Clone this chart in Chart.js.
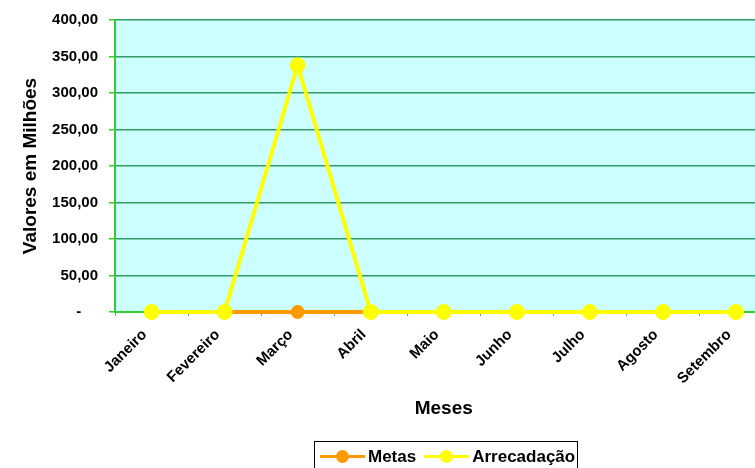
<!DOCTYPE html>
<html>
<head>
<meta charset="utf-8">
<script src="https://cdn.jsdelivr.net/npm/chart.js@4"></script>
<style>
  html, body { margin: 0; padding: 0; background: #fff; overflow: hidden; }
  #wrap { position: relative; width: 781px; height: 468px; }
  #legend {
    position: absolute; left: 314px; top: 441px; width: 264px; height: 32px;
    border: 1px solid #000; box-sizing: border-box; display: flex; align-items: center;
    font: bold 17px Arial, "Liberation Sans", sans-serif; color: #000;
  }
  .item { display: flex; align-items: center; margin-left: 5px; }
  .item + .item { margin-left: 8px; }
  .mark { position: relative; width: 45px; height: 14px; margin-right: 3px; }
  .mark .ln { position: absolute; left: 0; right: 0; top: 5px; height: 3px; }
  .mark .dot { position: absolute; left: 16px; top: 0; width: 13px; height: 13px; border-radius: 50%; }
</style>
</head>
<body>
<div id="wrap">
  <canvas id="chart"></canvas>
  <div id="legend"></div>
</div>
<script>
// chart data
const months = ['Janeiro', 'Fevereiro', 'Março', 'Abril', 'Maio', 'Junho', 'Julho', 'Agosto', 'Setembro'];
const metas = [0, 0, 0, 0, 0, 0, 0, 0, 0];
const arrecadacao = [0, 0, 338, 0, 0, 0, 0, 0, 0];
const seriesNames = ['Metas', 'Arrecadação'];
const seriesColors = ['#FF9900', '#FFFF00'];

const font = 'Arial, "Liberation Sans", sans-serif';

// light cyan plot background
const plotBackground = {
  id: 'plotBackground',
  beforeDraw(chart) {
    const { ctx, chartArea: a } = chart;
    ctx.save();
    ctx.fillStyle = '#CCFFFF';
    ctx.fillRect(a.left, a.top, a.right - a.left, a.bottom - a.top);
    ctx.restore();
  }
};

// excel style: "350,00", zero shown as a dash
const fmt = v => v === 0 ? '-    ' : v.toFixed(2).replace('.', ',');

new Chart(document.getElementById('chart'), {
  type: 'line',
  data: {
    labels: months,
    datasets: [
      {
        label: seriesNames[0],
        data: metas,
        borderColor: seriesColors[0],
        backgroundColor: seriesColors[0],
        borderWidth: 4,
        pointRadius: 6.5,
        pointBorderWidth: 1,
        pointHoverRadius: 6.5,
        clip: false,
        order: 1
      },
      {
        label: seriesNames[1],
        data: arrecadacao,
        borderColor: seriesColors[1],
        backgroundColor: seriesColors[1],
        borderWidth: 4,
        pointRadius: 7.5,
        pointBorderWidth: 1,
        pointHoverRadius: 7.5,
        clip: false,
        order: 0
      }
    ]
  },
  options: {
    responsive: true,
    maintainAspectRatio: false,
    animation: false,
    layout: { padding: { top: 18, right: 0, bottom: 43, left: 0 } },
    plugins: {
      legend: { display: false },
      tooltip: { enabled: false }
    },
    scales: {
      x: {
        offset: true,
        grid: {
          offset: true,
          drawOnChartArea: false,
          color: '#33CC33',
          tickLength: 4
        },
        border: { color: '#33CC33', width: 2 },
        ticks: {
          minRotation: 45,
          maxRotation: 45,
          padding: 10,
          labelOffset: -7,
          color: '#000',
          font: { family: font, size: 15, weight: 'bold' }
        },
        title: {
          display: true,
          text: 'Meses',
          color: '#000',
          padding: { top: 0, bottom: 5 },
          font: { family: font, size: 19, weight: 'bold' }
        },
        afterFit(scale) { scale.height = 113; }
      },
      y: {
        min: 0,
        max: 400,
        grid: {
          color: '#339966',
          lineWidth: 1.5,
          tickColor: '#33CC33',
          tickLength: 6
        },
        border: { color: '#33CC33', width: 2 },
        ticks: {
          stepSize: 50,
          padding: 11,
          color: '#000',
          font: { family: font, size: 15, weight: 'bold' },
          callback: v => fmt(v)
        },
        title: {
          display: true,
          text: 'Valores em Milhões',
          color: '#000',
          padding: { top: 19, bottom: 0 },
          font: { family: font, size: 19, weight: 'bold' }
        },
        afterFit(scale) { scale.width = 115; }
      }
    }
  },
  plugins: [plotBackground]
});

// legend with line + marker, like the original
const legend = document.getElementById('legend');
seriesNames.forEach((name, i) => {
  const item = document.createElement('div');
  item.className = 'item';
  item.innerHTML =
    '<span class="mark"><span class="ln" style="background:' + seriesColors[i] + '"></span>' +
    '<span class="dot" style="background:' + seriesColors[i] + '"></span></span>' +
    '<span>' + name + '</span>';
  legend.appendChild(item);
});
</script>
</body>
</html>
